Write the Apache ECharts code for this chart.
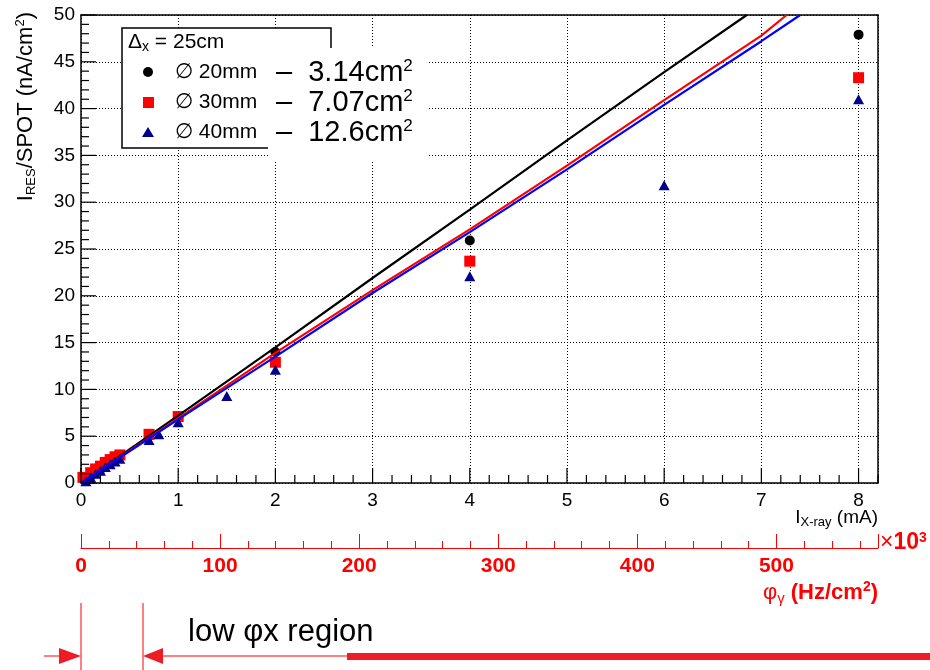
<!DOCTYPE html>
<html lang="en">
<head>
<meta charset="UTF-8">
<title>I_RES/SPOT vs I_X-ray</title>
<script src="https://cdn.jsdelivr.net/npm/echarts@6/dist/echarts.min.js"></script>
<style>
  html, body { margin: 0; padding: 0; background: #fff; }
  #main { width: 930px; height: 670px; }
</style>
</head>
<body>
<div id="main"></div>
<script>
// measured points [I_X-ray (mA), I_RES/SPOT (nA/cm2)]
var spot20 = [[0.05,0.4],[0.1,0.75],[0.2,1.45],[0.3,2.15],[0.4,2.85],[0.7,5.0],[1,7.1],[2,14.0],[4,25.9],[8,47.9]];
var spot30 = [[0.02,0.6],[0.1,1.1],[0.15,1.5],[0.2,1.8],[0.25,2.2],[0.3,2.5],[0.35,2.8],[0.4,3.0],[0.7,5.2],[1,7.1],[2,12.9],[4,23.7],[8,43.3]];
var spot40 = [[0.05,0.2],[0.1,0.6],[0.15,1.0],[0.2,1.3],[0.25,1.7],[0.3,2.0],[0.35,2.3],[0.4,2.6],[0.7,4.6],[0.8,5.2],[1,6.5],[1.5,9.3],[2,12.1],[4,22.1],[6,31.8],[8,41.0]];
// scan curves
var scan20 = [[0,0],[1,7.2],[2,14.5],[3,21.9],[4,29.2],[5,36.6],[6,43.9],[6.85,50]];
var scan30 = [[0,0],[1,6.9],[2,13.9],[3,20.6],[4,27.1],[5,33.9],[6,40.9],[7,47.8],[7.26,50]];
var scan40 = [[0,0],[1,6.8],[2,13.5],[3,20.3],[4,26.8],[5,33.5],[6,40.4],[7,47.2],[7.4,50]];
var legendNames = ['\u2205 20mm', '\u2205 30mm', '\u2205 40mm'];
var areaLabels = ['3.14cm', '7.07cm', '12.6cm'];

var chart = echarts.init(document.getElementById('main'));
var FONT = 'Liberation Sans';
var dotted = { color: '#000', width: 1, type: [1, 2] };

// tick marks along the frame (major every 1 mA / 5 nA, minor every 0.2 / 1)
var xTickVals = [], yTickVals = [];
for (var k = 0; k <= 41; k++) xTickVals.push([Math.round(k * 2) / 10, 0]);
for (var k = 0; k <= 50; k++) yTickVals.push([0, k]);

function tickSeries(vals, isX) {
  return {
    type: 'custom', coordinateSystem: 'cartesian2d', xAxisIndex: 0, yAxisIndex: 0,
    silent: true, clip: false, z: 4, data: vals,
    renderItem: function (params, api) {
      var v = isX ? api.value(0) : api.value(1);
      var step = isX ? 1 : 5;
      var major = Math.abs(v / step - Math.round(v / step)) < 1e-6;
      var len = major ? 15 : 8;
      var p = api.coord([api.value(0), api.value(1)]);
      var shape = isX ? { x1: p[0], y1: p[1], x2: p[0], y2: p[1] - len }
                      : { x1: p[0], y1: p[1], x2: p[0] + len, y2: p[1] };
      return { type: 'line', shape: shape, style: { stroke: '#000', lineWidth: 1.2 } };
    }
  };
}

var legendItems = [];
var markerShapes = [
  { type: 'circle', shape: { cx: 148, cy: 72, r: 5 }, style: { fill: '#000' } },
  { type: 'rect', shape: { x: 143, y: 97, width: 11, height: 11 }, style: { fill: '#ff0000' } },
  { type: 'polygon', shape: { points: [[148, 127], [154, 137], [142, 137]] }, style: { fill: '#00008b' } }
];
for (var i = 0; i < 3; i++) {
  markerShapes[i].z = 110;
  legendItems.push(markerShapes[i]);
  legendItems.push({
    type: 'text', x: 175, y: 72 + i * 30, z: 110,
    style: { text: legendNames[i], font: '21px ' + FONT, fill: '#000', textVerticalAlign: 'middle' }
  });
  legendItems.push({
    type: 'text', x: 276, y: 73 + i * 30, z: 110,
    style: {
      text: '{m|\u2013  ' + areaLabels[i] + '}{p|2}',
      textVerticalAlign: 'middle',
      rich: {
        m: { fontFamily: FONT, fontSize: 29, fill: '#000', lineHeight: 30 },
        p: { fontFamily: FONT, fontSize: 17, fill: '#000', lineHeight: 16, verticalAlign: 'top' }
      }
    }
  });
}

function frameAxis(pos) {
  return {
    type: 'value', position: pos, min: 0, max: 1,
    axisLine: { show: true, onZero: false, lineStyle: { color: '#000', width: 1.5 } },
    axisTick: { show: false }, axisLabel: { show: false }, splitLine: { show: false }
  };
}

var option = {
  animation: false,
  backgroundColor: '#fff',
  grid: { left: 81, right: 52, top: 15, bottom: 187, show: false },
  xAxis: [
    {
      type: 'value', min: 0, max: 8.2, interval: 1, position: 'bottom',
      axisLine: { show: true, onZero: false, lineStyle: { color: '#000', width: 1.5 } },
      axisTick: { show: false },
      axisLabel: { fontFamily: FONT, fontSize: 19, color: '#000', margin: 8, showMaxLabel: false },
      splitLine: { show: true, lineStyle: dotted }
    },
    {
      type: 'value', min: 0, max: 573, interval: 100, position: 'bottom', offset: 65,
      axisLine: { show: true, onZero: false, lineStyle: { color: '#ff0000', width: 1.2 } },
      axisTick: { show: true, inside: true, length: 14, lineStyle: { color: '#ff0000', width: 1 } },
      minorTick: { show: true, splitNumber: 5, length: 7, lineStyle: { color: '#ff0000', width: 1 } },
      axisLabel: { fontFamily: FONT, fontSize: 21, fontWeight: 'bold', color: '#ff0000', margin: 8, showMaxLabel: false },
      splitLine: { show: false }
    },
    frameAxis('top')
  ],
  yAxis: [
    {
      type: 'value', min: 0, max: 50, interval: 5, position: 'left',
      axisLine: { show: true, onZero: false, lineStyle: { color: '#000', width: 1.5 } },
      axisTick: { show: false },
      axisLabel: { fontFamily: FONT, fontSize: 19, color: '#000', margin: 6 },
      splitLine: { show: true, lineStyle: dotted }
    },
    frameAxis('right')
  ],
  series: [
    { type: 'scatter', data: spot20, symbol: 'circle', symbolSize: 10, itemStyle: { color: '#000', opacity: 1 }, z: 2 },
    { type: 'scatter', data: spot30, symbol: 'rect', symbolSize: 11, itemStyle: { color: '#ff0000', opacity: 1 }, z: 2 },
    { type: 'scatter', data: spot40, symbol: 'triangle', symbolSize: [11, 10], itemStyle: { color: '#00008b', opacity: 1 }, z: 2 },
    { type: 'line', data: scan20, showSymbol: false, lineStyle: { color: '#000', width: 2.2 }, z: 3 },
    { type: 'line', data: scan30, showSymbol: false, lineStyle: { color: '#ff0000', width: 2.2 }, z: 3 },
    { type: 'line', data: scan40, showSymbol: false, lineStyle: { color: '#0000ff', width: 2.2 }, z: 3 },
    tickSeries(xTickVals, true),
    tickSeries(yTickVals, false)
  ],
  graphic: [
    // legend box and the white patch behind the area labels
    { type: 'rect', z: 100, shape: { x: 122, y: 28, width: 209, height: 120 }, style: { fill: '#fff', stroke: '#000', lineWidth: 1.5 } },
    { type: 'rect', z: 101, shape: { x: 268, y: 48, width: 159, height: 112 }, style: { fill: '#fff' } },
    {
      type: 'text', x: 128, y: 42, z: 110,
      style: {
        text: '{m|\u0394}{s|x}{m| = 25cm}', textVerticalAlign: 'middle',
        rich: {
          m: { fontFamily: FONT, fontSize: 21, fill: '#000', lineHeight: 24 },
          s: { fontFamily: FONT, fontSize: 14, fill: '#000', lineHeight: 12, verticalAlign: 'bottom' }
        }
      }
    }
  ].concat(legendItems).concat([
    // axis titles
    {
      type: 'text', x: 26, y: 12, rotation: Math.PI / 2, z: 50,
      style: {
        text: '{m|I}{s|RES}{m|/SPOT (nA/cm}{p|2}{m|)}', textAlign: 'right', textVerticalAlign: 'middle',
        rich: {
          m: { fontFamily: FONT, fontSize: 22, fill: '#000', lineHeight: 24 },
          s: { fontFamily: FONT, fontSize: 13, fill: '#000', lineHeight: 11, verticalAlign: 'bottom' },
          p: { fontFamily: FONT, fontSize: 13, fill: '#000', lineHeight: 11, verticalAlign: 'top' }
        }
      }
    },
    {
      type: 'text', x: 878, y: 518, z: 50,
      style: {
        text: '{m|I}{s|X-ray}{m| (mA)}', textAlign: 'right', textVerticalAlign: 'middle',
        rich: {
          m: { fontFamily: FONT, fontSize: 19, fill: '#000', lineHeight: 22 },
          s: { fontFamily: FONT, fontSize: 13, fill: '#000', lineHeight: 11, verticalAlign: 'bottom' }
        }
      }
    },
    {
      type: 'text', x: 880, y: 543, z: 50,
      style: {
        text: '{x|\u00d7}{b|10}{p|3}', textVerticalAlign: 'middle',
        rich: {
          x: { fontFamily: FONT, fontSize: 23, fill: '#ff0000', lineHeight: 24 },
          b: { fontFamily: FONT, fontSize: 23, fontWeight: 'bold', fill: '#ff0000', lineHeight: 24 },
          p: { fontFamily: FONT, fontSize: 14, fontWeight: 'bold', fill: '#ff0000', lineHeight: 12, verticalAlign: 'top' }
        }
      }
    },
    {
      type: 'text', x: 878, y: 593, z: 50,
      style: {
        text: '{f|\u03c6}{g|\u03b3}{b| (Hz/cm}{p|2}{b|)}', textAlign: 'right', textVerticalAlign: 'middle',
        rich: {
          f: { fontFamily: FONT, fontSize: 22, fill: '#ff0000', lineHeight: 26 },
          g: { fontFamily: FONT, fontSize: 15, fill: '#ff0000', lineHeight: 10, verticalAlign: 'bottom' },
          b: { fontFamily: FONT, fontSize: 22, fontWeight: 'bold', fill: '#ff0000', lineHeight: 26 },
          p: { fontFamily: FONT, fontSize: 14, fontWeight: 'bold', fill: '#ff0000', lineHeight: 12, verticalAlign: 'top' }
        }
      }
    },
    // low flux region marker
    { type: 'line', shape: { x1: 81, y1: 603, x2: 81, y2: 670 }, style: { stroke: '#ff0000', lineWidth: 1 } },
    { type: 'line', shape: { x1: 143, y1: 603, x2: 143, y2: 670 }, style: { stroke: '#ff0000', lineWidth: 1 } },
    { type: 'line', shape: { x1: 44, y1: 656, x2: 62, y2: 656 }, style: { stroke: '#ff0000', lineWidth: 1 } },
    { type: 'polygon', shape: { points: [[59, 648], [81, 656], [59, 664]] }, style: { fill: '#ee1c25' } },
    { type: 'polygon', shape: { points: [[163, 648], [143, 656], [163, 664]] }, style: { fill: '#ee1c25' } },
    { type: 'line', shape: { x1: 163, y1: 656, x2: 347, y2: 656 }, style: { stroke: '#ff0000', lineWidth: 1 } },
    { type: 'rect', shape: { x: 347, y: 653, width: 583, height: 7 }, style: { fill: '#ee1c25' } },
    {
      type: 'text', x: 188, y: 632,
      style: { text: 'low \u03c6x region', font: '31px ' + FONT, fill: '#000', textVerticalAlign: 'middle' }
    }
  ])
};
chart.setOption(option);
</script>
</body>
</html>
